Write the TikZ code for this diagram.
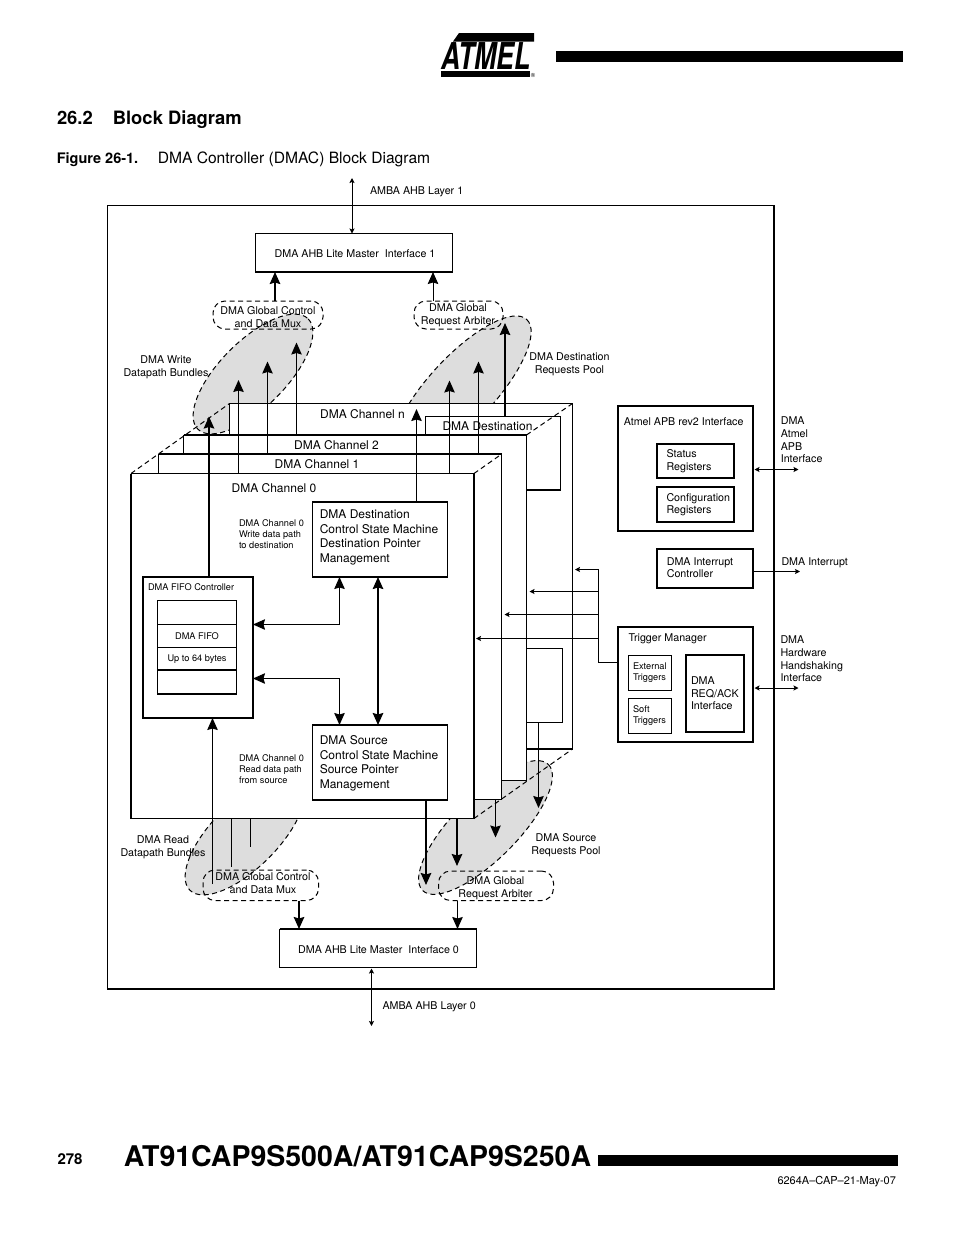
\documentclass[tikz,border=0pt]{standalone}
\usepackage{fontspec}
\setmainfont{TeX Gyre Heros}
\usetikzlibrary{arrows.meta}
\definecolor{poolgrey}{RGB}{221,221,221}
\tikzset{
  bigfont/.style={font=\fontsize{12}{14.7}\selectfont},
  midfont/.style={font=\fontsize{10.7}{12.6}\selectfont},
  tinyfont/.style={font=\fontsize{9.2}{11}\selectfont},
  bigtip/.style={-{Stealth[length=12pt,width=10.5pt,inset=1.5pt]}},
  bothtip/.style={{Stealth[length=12pt,width=10.5pt,inset=1.5pt]}-{Stealth[length=12pt,width=10.5pt,inset=1.5pt]}},
  smalltip/.style={-{Stealth[length=5pt,width=5pt,inset=1pt]}},
  smallboth/.style={{Stealth[length=5pt,width=5pt,inset=1pt]}-{Stealth[length=5pt,width=5pt,inset=1pt]}},
  heavy/.style={line width=1.9pt},
  pool/.style={draw,fill=poolgrey,dashed,dash pattern=on 5pt off 3.5pt},
  crease/.style={dashed,dash pattern=on 5pt off 3.5pt},
  blk/.style 2 args={draw,outer sep=0,inner sep=0,align=center,midfont,minimum width=#1,minimum height=#2},
  lblk/.style n args={3}{draw,outer sep=0,inner ysep=0,inner xsep=#3,align=left,midfont,minimum width=#1,minimum height=#2,text width=#1-2*#3},
  whiteblk/.style 2 args={blk={#1}{#2},fill=white},
  mux/.style 2 args={blk={#1}{#2},dashed,dash pattern=on 5pt off 3.5pt,rounded corners=12pt},
  txt/.style={inner sep=0,align=center,midfont},
  ltxt/.style={inner sep=0,align=left,anchor=west,midfont}
}
\begin{document}
\begin{tikzpicture}[x=1pt,y=-1pt,line width=1pt]
\useasboundingbox (0,0) rectangle (954,1235);

\fill (556,51) rectangle (903,62);
\fill (598,1155) rectangle (898,1165.5);
\fill (459,33)--(534,33)--(534,41.5)--(453,41.5)--cycle;
\fill (441,70.5)--(530,70.5)--(530,77)--(441,77)--cycle;
\node[inner sep=0,xscale=.72,font=\fontsize{37}{37}\selectfont\bfseries\itshape] (atmel) at (486,56) {ATMEL};
\node[inner sep=0,font=\fontsize{6}{6}\selectfont] (reg) at (533,75) {®};

\node[inner sep=0,anchor=base west,font=\fontsize{18.4}{20}\selectfont\bfseries] (secnum) at (56.5,124) {26.2};
\node[inner sep=0,anchor=base west,font=\fontsize{18.4}{20}\selectfont\bfseries] (sectitle) at (112.3,124) {Block Diagram};
\node[inner sep=0,anchor=base west,font=\fontsize{14.5}{16}\selectfont\bfseries] (fignum) at (56.3,163) {Figure 26-1.};
\node[inner sep=0,anchor=base west,font=\fontsize{15.6}{16}\selectfont] (figtitle) at (157.3,163) {DMA Controller (DMAC) Block Diagram};
\node[inner sep=0,anchor=base west,font=\fontsize{15}{16}\selectfont\bfseries] (pagenum) at (57,1164) {278};
\node[inner sep=0,anchor=base west,font=\fontsize{28.5}{30}\selectfont\bfseries] (parts) at (123.3,1166) {AT91CAP9S500A/AT91CAP9S250A};
\node[inner sep=0,anchor=base west,font=\fontsize{11}{12}\selectfont] (docref) at (777,1184) {6264A–CAP–21-May-07};

\node[blk={666.5}{783.5}] (frame) at (440.75,597.25) {};
\draw[line width=1.6pt] (frame.north east) -- (frame.south east) -- (frame.south west);

\draw[pool,rotate around={45:(253,374)}] (253,374) ellipse [x radius=78,y radius=33];
\draw[pool,rotate around={47:(462,389)}] (462,389) ellipse [x radius=95,y radius=33];
\draw[pool,rotate around={45:(245,835)}] (245,835) ellipse [x radius=78,y radius=33];
\draw[pool,rotate around={45:(485.5,827.5)}] (485.5,827.5) ellipse [x radius=89,y radius=32];

\node[whiteblk={343}{345.5}] (chn) at (401,576.25) {};
\node[whiteblk={135}{74}] (dstpool) at (493,453) {};
\node[whiteblk={62.5}{74}] (srcpool) at (531.25,685.5) {};
\draw[heavy] (chn.south west) -- (chn.south east);
\draw[heavy] (dstpool.south west) -- (dstpool.south east);
\foreach \nm/\cx/\cy in {chb/355/607.5,cha/330.25/626.5,cho/302.5/646}
{
   \node[whiteblk={343}{345}] (\nm) at (\cx,\cy) {};
}
\draw[heavy] (chb.north west) -- (chb.north east);
\draw[line width=1.5pt] (cha.north west) -- (cha.north east);
\draw[heavy] (cho.south west) -- (cho.north west);
\draw[heavy] (cho.north east) -- (cho.south east);

\draw[crease] (cho.north west) -- (chn.north west);
\draw[crease] (cho.north east) -- (cha.north east);
\draw[crease] (chb.north east) -- (chn.north east);
\draw[crease] (cho.south east) -- (chn.south east);

\node[txt,bigfont] (chnT) at (362.5,414.5) {DMA Channel n};
\node[txt,bigfont] (dstT) at (487.5,426) {DMA Destination};
\node[txt,bigfont] (chbT) at (336.5,445.5) {DMA Channel 2};
\node[txt,bigfont] (chaT) at (317,464) {DMA Channel 1};
\node[txt,bigfont] (choT) at (274,488) {DMA Channel 0};

\node[blk={197}{38.5}] (ahbT) at (354,252.75) {};
\node[blk={197}{38.5}] (ahbB) at (378,948.25) {};
\node[txt] (ahbTtxt) at (355,253.75) {DMA AHB Lite Master\ \ Interface 1};
\node[txt] (ahbBtxt) at (378.5,949.25) {DMA AHB Lite Master\ \ Interface 0};
\draw[heavy] (ahbT.south west) -- (ahbT.south east);
\draw[heavy] (ahbB.north west) -- (ahbB.north east);
\node[mux={110}{28}] (muxT) at (268,315) {};
\node[mux={89}{28}] (arbT) at (458.5,315) {};
\node[mux={115.5}{30.5}] (muxB) at (260.75,885.25) {};
\node[mux={115}{29.5}] (arbB) at (496,885.75) {};
\node[txt] (muxTtxt) at (268,317) {DMA Global Control\\and Data Mux};
\node[txt] (arbTtxt) at (458,315) {DMA Global\\Request Arbiter};
\node[txt] (muxBtxt) at (263,883) {DMA Global Control\\and Data Mux};
\node[txt] (arbBtxt) at (495.5,888) {DMA Global\\Request Arbiter};

\node[blk={135}{75},line width=1.2pt] (dstfsm) at (380,539.5) {};
\node[blk={135}{75},line width=1.2pt] (srcfsm) at (380,762.5) {};
\node[ltxt,bigfont] (dstfsmT) at (319.3,537.3) {DMA Destination\\Control State Machine\\Destination Pointer\\Management};
\node[ltxt,bigfont] (srcfsmT) at (319.3,763.25) {DMA Source\\Control State Machine\\Source Pointer\\Management};
\draw[heavy] (dstfsm.north west) -- (dstfsm.north east);
\draw[heavy] (srcfsm.north west) -- (srcfsm.north east);

\node[blk={110}{141}] (fifoctl) at (198,647.5) {};
\node[txt,tinyfont,anchor=west] (fifoctlT) at (147.5,587) {DMA FIFO Controller};
\foreach \nm/\cy/\hh/\lbl in {fifoa/612.25/24.5/,fifob/636/23/DMA FIFO,fifoc/658.75/22.5/Up to 64 bytes,fifod/682/24/}
{
   \node[blk={79}{\hh},tinyfont] (\nm) at (197,\cy) {\lbl};
}
\draw[heavy] (fifoc.south west) -- (fifoc.south east);
\draw[heavy] (fifod.south west) -- (fifod.south east);

\node[ltxt,tinyfont] (wrpath) at (238.5,534) {DMA Channel 0\\Write data path\\to destination};
\node[ltxt,tinyfont] (rdpath) at (238.5,769) {DMA Channel 0\\Read data path\\from source};

\node[txt] (wrbund) at (166,367) {DMA Write\\Datapath Bundles};
\node[txt] (dstreq) at (569.5,364.5) {DMA Destination\\Requests Pool};
\node[txt] (rdbund) at (163,847.5) {DMA Read\\Datapath Bundles};
\node[txt] (srcreq) at (566,845) {DMA Source\\Requests Pool};
\node[ltxt] (ambaT) at (369.5,192) {AMBA AHB Layer 1};
\node[ltxt] (ambaB) at (382,1007) {AMBA AHB Layer 0};

\coordinate (ambaTend) at (352,178);
\coordinate (ambaBend) at (371.5,1026);
\draw[smallboth] (ambaTend) -- (ahbT.north -| 352,0);
\draw[smallboth] (ahbB.south -| 371.5,0) ++(0,1) -- (ambaBend);

\draw[bigtip,heavy] (muxT.north -| 275,0) -- (ahbT.south -| 275,0);
\draw[bigtip] (arbT.north -| 433,0) -- (ahbT.south -| 433,0);
\draw[bigtip,heavy] (muxB.south -| 299,0) -- (ahbB.north -| 299,0);
\draw[bigtip] (arbB.south -| 457.5,0) -- (ahbB.north -| 457.5,0);

\coordinate (wrtip) at (209,416.5);
\coordinate (dsttip) at (505,323);
\coordinate (fsmtip) at (416.5,409);
\draw[bigtip,heavy] (fifoctl.north -| 209,0) -- (wrtip);
\draw[bigtip,heavy] (dstpool.north -| 505,0) -- (dsttip);
\draw[bigtip] (dstfsm.north -| 416.5,0) -- (fsmtip);
\foreach \nm/\from/\px/\py in {wra/cho/238.5/380,wrb/cha/267.5/361.5,wrc/chb/296.5/342.5,rqa/cho/449.5/380.5,rqb/cha/478.5/361.5}
{
   \coordinate (\nm) at (\px,\py);
   \draw[bigtip] (\from.north -| \px,0) -- (\nm);
}

\coordinate (rdtail) at (212.5,884);
\coordinate (rdb) at (231.5,867);
\coordinate (rdc) at (250.5,847);
\draw[bigtip] (rdtail) -- (fifoctl.south -| 212.5,0);
\draw (cho.south -| 231.5,0) -- (rdb);
\draw (cho.south -| 250.5,0) -- (rdc);

\coordinate (srca) at (426,885);
\coordinate (srcb) at (457,866);
\coordinate (srcc) at (495.5,837.5);
\coordinate (srcd) at (538.5,808);
\draw[bigtip,heavy] (srcfsm.south -| 426,0) -- (srca);
\draw[bigtip,heavy] (cho.south -| 457,0) -- (srcb);
\draw[bigtip] (cha.south -| 495.5,0) -- (srcc);
\draw[bigtip] (srcpool.south -| 538.5,0) -- (srcd);

\coordinate (bendup) at (339.5,624.5);
\coordinate (benddn) at (339.5,678.5);
\draw[bothtip] (fifoctl.east |- bendup) -- (bendup) -- (dstfsm.south -| bendup);
\draw[bothtip] (fifoctl.east |- benddn) -- (benddn) -- (srcfsm.north -| benddn);
\draw[bothtip,heavy] (dstfsm.south) ++(-2,0) -- ([xshift=-2pt]srcfsm.north);

\node[blk={135}{125}] (apb) at (685.5,468.5) {};
\node[ltxt] (apbT) at (623.3,422) {Atmel APB rev2 Interface};
\node[lblk={77}{34}{9.5}] (status) at (695.5,461) {Status\\Registers};
\node[lblk={77}{35}{9.5}] (config) at (695.5,504.5) {Configuration\\Registers};
\node[blk={96}{39}] (irq) at (705,568.5) {};
\node[ltxt] (irqT) at (666.3,567.5) {DMA Interrupt\\Controller};
\node[blk={135}{115}] (trig) at (685.5,684.5) {};
\node[ltxt] (trigT) at (628,638.5) {Trigger Manager};
\node[lblk={43}{34.5}{4.5},tinyfont] (extrig) at (650,672.75) {External\\Triggers};
\node[lblk={43}{34.5}{4.5},tinyfont] (softrig) at (650,716) {Soft\\Triggers};
\node[lblk={58}{77}{5}] (reqack) at (715,693.5) {DMA\\REQ/ACK\\Interface};
\foreach \nm in {apb,status,config,irq,fifoctl}
{
   \draw[heavy] (\nm.north west) rectangle (\nm.south east);
}
\draw[line width=1.6pt] (trig.north west) rectangle (trig.south east);
\draw[line width=1.3pt] (reqack.north west) rectangle (reqack.south east);

\node[ltxt] (apbL) at (780.3,440) {DMA\\Atmel\\APB\\Interface};
\node[ltxt] (irqL) at (781,562.5) {DMA Interrupt};
\node[ltxt] (hwL) at (780,659) {DMA\\Hardware\\Handshaking\\Interface};

\coordinate (apbend) at (798.5,469.5);
\coordinate (irqend) at (800,571.5);
\coordinate (hwend) at (798.5,688);
\draw[smallboth] (apb.east |- apbend) ++(1.5,0) -- (apbend);
\draw[smalltip] (irq.east |- irqend) -- (irqend);
\draw[smallboth] (trig.east |- hwend) ++(1.5,0) -- (hwend);

\coordinate (bus) at (598.5,662.5);
\draw (trig.west |- bus) -- (bus) -- (598.5,569.5);
\foreach \py/\tip in {569.5/575,591.5/529.5,614.5/504.5,638.5/476}
{
   \draw[smalltip] (598.5,\py) -- (\tip,\py);
}
\end{tikzpicture}
\end{document}
